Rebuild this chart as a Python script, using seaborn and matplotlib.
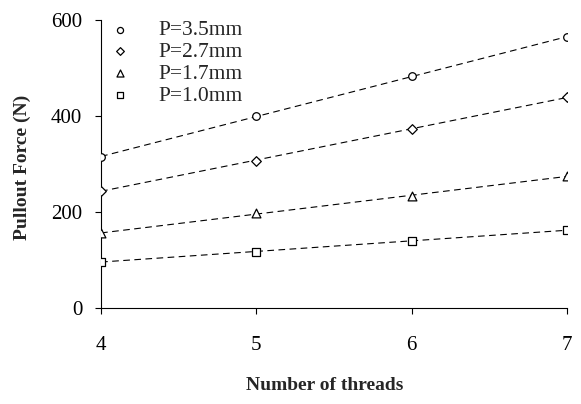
import numpy as np
import pandas as pd
import matplotlib
matplotlib.use("Agg")
import matplotlib.pyplot as plt
import seaborn as sns

threads = [4, 5, 6, 7]
series_labels = ["P=3.5mm", "P=2.7mm", "P=1.7mm", "P=1.0mm"]
p35 = [315, 400, 483, 565]
p27 = [244, 307, 374, 439]
p17 = [156, 197, 233, 275]
p10 = [96, 117, 140, 162]
y_ticks = [0, 200, 400, 600]
x_ticks = [4, 5, 6, 7]

sns.set_theme(style="ticks")
plt.rcParams['font.family'] = ['Liberation Serif', 'DejaVu Serif']

df = pd.DataFrame({
    "threads": threads * 4,
    "force": p35 + p27 + p17 + p10,
    "series": sum([[s] * 4 for s in series_labels], []),
})
markers = {"P=3.5mm": "o", "P=2.7mm": "D", "P=1.7mm": "^", "P=1.0mm": "s"}
msizes = {"P=3.5mm": 30, "P=2.7mm": 24, "P=1.7mm": 40, "P=1.0mm": 30}

fig = plt.figure(figsize=(5.81, 4.04), dpi=100)
ax = fig.add_axes([0.174, 0.238, 0.802, 0.712])

for s in series_labels:
    sub = df[df.series == s]
    sns.regplot(data=sub, x="threads", y="force", ax=ax, scatter=False, ci=None,
                truncate=True, line_kws=dict(color="black", lw=0.8, ls=(0, (6, 4))))

for s in series_labels:
    sub = df[df.series == s]
    sns.scatterplot(data=sub, x="threads", y="force", ax=ax, marker=markers[s],
                    s=msizes[s], facecolor="white", edgecolor="black", linewidth=0.9,
                    label=s, zorder=3)

ax.set_xlim(4, 7)
ax.set_ylim(0, 600)
ax.set_xticks(x_ticks)
ax.set_yticks(y_ticks)
ax.tick_params(axis="both", direction="out", length=4.5, width=0.8, labelsize=15, colors="black")
ax.tick_params(axis="x", pad=16)
ax.tick_params(axis="y", pad=9)
for sp in ["top", "right"]:
    ax.spines[sp].set_visible(False)
for sp in ["left", "bottom"]:
    ax.spines[sp].set_color("black")
    ax.spines[sp].set_linewidth(0.8)

ax.set_xlabel("Number of threads", fontsize=14, fontweight="bold", va="center")
ax.set_ylabel("Pullout Force (N)", fontsize=14, fontweight="bold", va="center")
ax.xaxis.set_label_coords(0.48, -0.27)
ax.yaxis.set_label_coords(-0.17, 0.49)

leg = ax.legend(frameon=False, loc="upper left", bbox_to_anchor=(0.0, 1.03),
                fontsize=15.5, handlelength=1.0, handletextpad=1.25,
                labelspacing=0.08, borderaxespad=0.0, borderpad=0.4, markerscale=0.8)

fig.savefig("out.png", dpi=100)
